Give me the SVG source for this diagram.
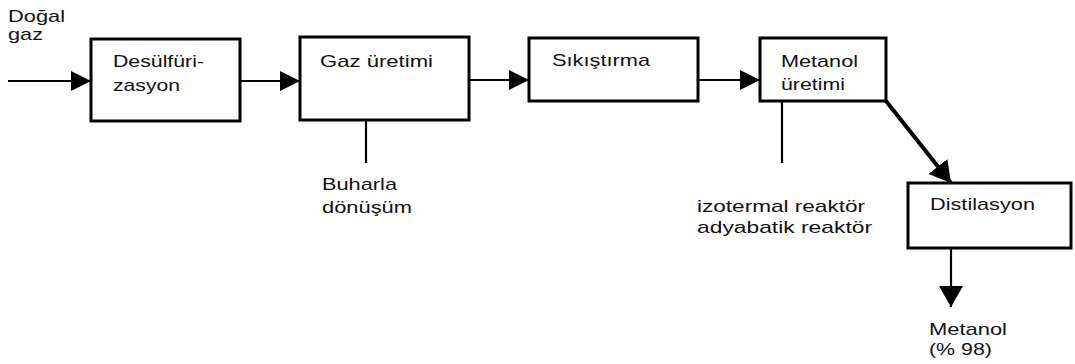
<svg xmlns="http://www.w3.org/2000/svg" width="1075" height="364" viewBox="0 0 1075 364">
  <style>
    .box { fill: #fff; stroke: #000; stroke-width: 3; }
    .lbl { font-family: "Liberation Sans", Arial, sans-serif; font-size: 17px; fill: #111; }
    .ln { stroke: #000; stroke-width: 2.2; fill: none; }
    .thick { stroke: #000; stroke-width: 4; fill: none; }
  </style>
  <defs>
    <marker id="arr" markerUnits="userSpaceOnUse" markerWidth="22" markerHeight="22" refX="20" refY="10" orient="auto" viewBox="0 0 22 22">
      <path d="M0,0 L20,10 L0,20 z" fill="#000"/>
    </marker>
    <marker id="arrBig" markerUnits="userSpaceOnUse" markerWidth="26" markerHeight="26" refX="21" refY="12" orient="auto" viewBox="0 0 26 26">
      <path d="M0,0 L21,12 L0,24 z" fill="#000"/>
    </marker>
  </defs>

  <rect width="1075" height="364" fill="#fff"/>

  <!-- connectors -->
  <g id="connectors">
    <line class="ln" x1="8" y1="81" x2="91" y2="81" marker-end="url(#arr)"/>
    <line class="ln" x1="240" y1="81" x2="300" y2="81" marker-end="url(#arr)"/>
    <line class="ln" x1="469" y1="80" x2="529" y2="80" marker-end="url(#arr)"/>
    <line class="ln" x1="698" y1="80" x2="760" y2="80" marker-end="url(#arr)"/>
    <line class="ln" x1="366" y1="120" x2="366" y2="163"/>
    <line class="ln" x1="782" y1="101" x2="782" y2="163"/>
    <line class="thick" x1="886" y1="101" x2="951" y2="183" marker-end="url(#arrBig)"/>
    <line class="ln" x1="951" y1="248" x2="951" y2="307" marker-end="url(#arrBig)"/>
  </g>

  <!-- input stream label -->
  <g id="input-label">
    <text class="lbl" x="8" y="22" textLength="57" lengthAdjust="spacingAndGlyphs">Doğal</text>
    <text class="lbl" x="8" y="40" textLength="35" lengthAdjust="spacingAndGlyphs">gaz</text>
  </g>

  <g id="desulfurizasyon">
    <rect class="box" x="91" y="39" width="149" height="82"/>
    <text class="lbl" x="113" y="67" textLength="91" lengthAdjust="spacingAndGlyphs">Desülfüri-</text>
    <text class="lbl" x="113" y="91" textLength="67" lengthAdjust="spacingAndGlyphs">zasyon</text>
  </g>

  <g id="gaz-uretimi">
    <rect class="box" x="300" y="37" width="169" height="83"/>
    <text class="lbl" x="320" y="67" textLength="113" lengthAdjust="spacingAndGlyphs">Gaz üretimi</text>
  </g>

  <g id="sikistirma">
    <rect class="box" x="529" y="38" width="169" height="63"/>
    <text class="lbl" x="552" y="66" textLength="98" lengthAdjust="spacingAndGlyphs">Sıkıştırma</text>
  </g>

  <g id="metanol-uretimi">
    <rect class="box" x="760" y="38" width="126" height="63"/>
    <text class="lbl" x="781" y="67" textLength="77" lengthAdjust="spacingAndGlyphs">Metanol</text>
    <text class="lbl" x="781" y="90" textLength="64" lengthAdjust="spacingAndGlyphs">üretimi</text>
  </g>

  <g id="distilasyon">
    <rect class="box" x="908" y="183" width="163" height="65"/>
    <text class="lbl" x="930" y="210" textLength="105" lengthAdjust="spacingAndGlyphs">Distilasyon</text>
  </g>

  <g id="buharla-label">
    <text class="lbl" x="322" y="190" textLength="75" lengthAdjust="spacingAndGlyphs">Buharla</text>
    <text class="lbl" x="322" y="213" textLength="90" lengthAdjust="spacingAndGlyphs">dönüşüm</text>
  </g>

  <g id="reaktor-label">
    <text class="lbl" x="697" y="212" textLength="168" lengthAdjust="spacingAndGlyphs">izotermal reaktör</text>
    <text class="lbl" x="697" y="233" textLength="175" lengthAdjust="spacingAndGlyphs">adyabatik reaktör</text>
  </g>

  <g id="product-label">
    <text class="lbl" x="929" y="335" textLength="78" lengthAdjust="spacingAndGlyphs">Metanol</text>
    <text class="lbl" x="929" y="355" textLength="63" lengthAdjust="spacingAndGlyphs">(% 98)</text>
  </g>
</svg>
